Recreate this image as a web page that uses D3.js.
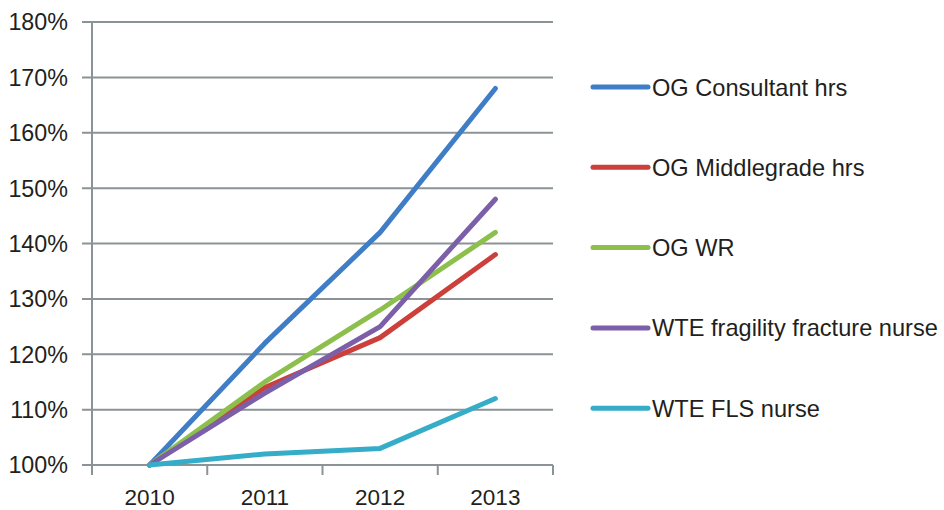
<!DOCTYPE html>
<html>
<head>
<meta charset="utf-8">
<script src="https://cdn.jsdelivr.net/npm/d3@7/dist/d3.min.js"></script>
<style>
  html, body { margin: 0; padding: 0; background: #fff; }
  svg { display: block; }
  text { font-family: "Liberation Sans", Arial, Helvetica, sans-serif; fill: #231f20; }
</style>
</head>
<body>
<svg id="chart" width="944" height="510"></svg>
<script>
// Years on the category axis
const years = ["2010", "2011", "2012", "2013"];

// Growth relative to 2010 (percent)
const consultantHrs  = [100, 122, 142, 168];
const middlegradeHrs = [100, 114, 123, 138];
const ogWR           = [100, 115, 128, 142];
const fragilityNurse = [100, 113, 125, 148];
const flsNurse       = [100, 102, 103, 112];

const seriesNames = [
  "OG Consultant hrs",
  "OG Middlegrade hrs",
  "OG WR",
  "WTE fragility fracture nurse",
  "WTE FLS nurse"
];
const seriesColors = ["#3f7dc6", "#cc3f3a", "#8dbf4c", "#7b5fa8", "#35adc9"];

// Y axis tick values (percent)
const yTicks = [100, 110, 120, 130, 140, 150, 160, 170, 180];

const series = [consultantHrs, middlegradeHrs, ogWR, fragilityNurse, flsNurse]
  .map((values, i) => ({ name: seriesNames[i], color: seriesColors[i], values }));

const svg = d3.select("#chart");
const plot = { left: 92, right: 553, top: 22, bottom: 465 };

const x = d3.scaleBand().domain(years).range([plot.left, plot.right]);
const y = d3.scaleLinear().domain([100, 180]).range([plot.bottom, plot.top]);

const gridColor = "#8b9396";

// Horizontal gridlines with small outside ticks
const grid = svg.append("g");
grid.selectAll("line")
  .data(yTicks)
  .join("line")
  .attr("x1", plot.left - 10)
  .attr("x2", plot.right)
  .attr("y1", d => y(d))
  .attr("y2", d => y(d))
  .attr("stroke", gridColor)
  .attr("stroke-width", 2);

// Vertical value axis line
svg.append("line")
  .attr("x1", plot.left).attr("x2", plot.left)
  .attr("y1", plot.top).attr("y2", plot.bottom + 10)
  .attr("stroke", gridColor).attr("stroke-width", 2);

// Category axis tick marks on band boundaries
const bandEdges = years.map(d => x(d)).concat([x(years[years.length - 1]) + x.bandwidth()]);
svg.append("g").selectAll("line")
  .data(bandEdges)
  .join("line")
  .attr("x1", d => d).attr("x2", d => d)
  .attr("y1", plot.bottom).attr("y2", plot.bottom + 10)
  .attr("stroke", gridColor).attr("stroke-width", 2);

// Y tick labels
svg.append("g").selectAll("text")
  .data(yTicks)
  .join("text")
  .attr("x", 68)
  .attr("y", d => y(d))
  .attr("dy", "0.36em")
  .attr("text-anchor", "end")
  .attr("font-size", 23.3)
  .text(d => d + "%");

// X tick labels
svg.append("g").selectAll("text")
  .data(years)
  .join("text")
  .attr("x", d => x(d) + x.bandwidth() / 2)
  .attr("y", 505)
  .attr("text-anchor", "middle")
  .attr("font-size", 22.5)
  .text(d => d);

// Series lines
const line = d3.line()
  .x((d, i) => x(years[i]) + x.bandwidth() / 2)
  .y(d => y(d));

svg.append("g").selectAll("path")
  .data(series)
  .join("path")
  .attr("d", d => line(d.values))
  .attr("fill", "none")
  .attr("stroke", d => d.color)
  .attr("stroke-width", 5)
  .attr("stroke-linecap", "round")
  .attr("stroke-linejoin", "round");

// Legend
const legend = svg.append("g").selectAll("g")
  .data(series)
  .join("g")
  .attr("transform", (d, i) => `translate(593, ${87 + i * 80.3})`);

legend.append("line")
  .attr("x1", 0).attr("x2", 55)
  .attr("stroke", d => d.color)
  .attr("stroke-width", 5)
  .attr("stroke-linecap", "round");

legend.append("text")
  .attr("x", 59)
  .attr("dy", "0.36em")
  .attr("font-size", 23.6)
  .text(d => d.name);
</script>
</body>
</html>
